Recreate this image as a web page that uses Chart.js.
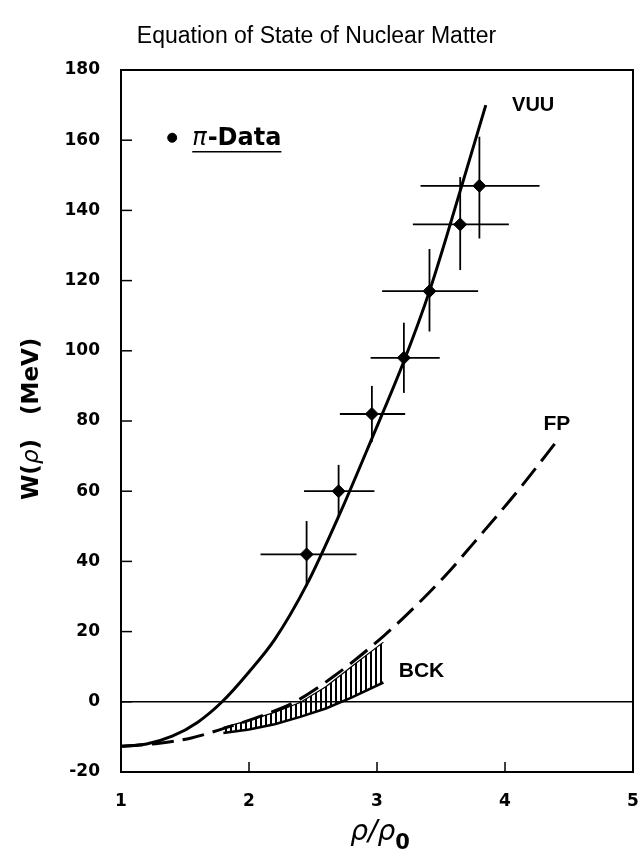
<!DOCTYPE html>
<html><head><meta charset="utf-8">
<script src="https://cdn.jsdelivr.net/npm/chart.js@4.4.0/dist/chart.umd.min.js"></script>
<style>html,body{margin:0;padding:0;background:#fff}</style>
</head><body>
<canvas id="c" width="643" height="857"></canvas>
<script>
// ---- data ----
const titleText = 'Equation of State of Nuclear Matter';
const xTicks = [1, 2, 3, 4, 5];
const yTicks = [-20, 0, 20, 40, 60, 80, 100, 120, 140, 160, 180];

// pi data points with error bars
const dataX  = [2.45, 2.70, 2.96, 3.21, 3.41, 3.65, 3.80];
const dataY  = [42, 60, 82, 98, 117, 136, 147];
const dataXlo = [2.09, 2.43, 2.71, 2.95, 3.04, 3.28, 3.34];
const dataXhi = [2.84, 2.98, 3.22, 3.49, 3.79, 4.03, 4.27];
const dataYlo = [33, 52.5, 74, 88, 105.5, 123, 132];
const dataYhi = [51.5, 67.5, 90, 108, 129, 149.5, 161];

// VUU curve
const vuuX = [1.0, 1.2, 1.4, 1.6, 1.79, 2.0, 2.2, 2.45, 2.7, 2.96, 3.21, 3.41, 3.67, 3.85];
const vuuY = [-12.7, -12.0, -9.8, -5.8, 0, 8.5, 17.7, 33.3, 52.8, 75, 97, 117, 148, 170];

// FP curve
const fpX = [1.0, 1.3, 1.55, 1.81, 2.12, 2.36, 2.66, 3.06, 3.35, 3.56, 3.75, 4.12, 4.42];
const fpY = [-12.7, -11.8, -10.3, -7.5, -3.7, 0, 7.2, 19, 29, 37, 45, 61, 75];

// BCK band
const bckX  = [1.8, 2.0, 2.2, 2.4, 2.6, 2.8, 3.05];
const bckHi = [-7.3, -5.3, -3.0, -0.2, 4.3, 10, 17];
const bckLo = [-8.9, -7.9, -6.4, -4.3, -1.9, 1.2, 5.5];

// legend marker
const legendX = [1.40];
const legendY = [160.7];

// curve labels
const labelText = ['VUU', 'FP', 'BCK'];
const labelX = [4.055, 4.30, 3.17];
const labelY = [168.4, 77.5, 7.1];
const labelSize = [20, 21, 21];

// ---- build ----
const pts = (xs, ys) => xs.map((v, i) => ({x: v, y: ys[i]}));

const pc = document.createElement('canvas');
pc.width = 5; pc.height = 10;
const pctx = pc.getContext('2d');
pctx.fillStyle = '#000';
pctx.fillRect(0, 0, 2, 10);
const hatch = document.getElementById('c').getContext('2d').createPattern(pc, 'repeat');

const datasets = [];
datasets.push({data: pts([1, 5], [0, 0]), borderColor: '#000', borderWidth: 1.5, pointRadius: 0, showLine: true, fill: false});
datasets.push({data: pts(bckX, bckHi), borderColor: '#000', borderWidth: 1.2, pointRadius: 0, showLine: true,
  fill: '+1', backgroundColor: hatch, tension: 0});
datasets.push({data: pts(bckX, bckLo), borderColor: '#000', borderWidth: 2.5, pointRadius: 0, showLine: true, fill: false, tension: 0});
datasets.push({data: pts(fpX, fpY), borderColor: '#000', borderWidth: 3, borderDash: [22, 9], pointRadius: 0,
  showLine: true, fill: false, cubicInterpolationMode: 'monotone'});
datasets.push({data: pts(vuuX, vuuY), borderColor: '#000', borderWidth: 3, pointRadius: 0,
  showLine: true, fill: false, cubicInterpolationMode: 'monotone'});
dataX.forEach((xv, i) => {
  datasets.push({data: [{x: dataXlo[i], y: dataY[i]}, {x: dataXhi[i], y: dataY[i]}], borderColor: '#000', borderWidth: 1.8,
    pointRadius: 0, showLine: true, fill: false});
  datasets.push({data: [{x: xv, y: dataYlo[i]}, {x: xv, y: dataYhi[i]}], borderColor: '#000', borderWidth: 1.8,
    pointRadius: 0, showLine: true, fill: false});
});
datasets.push({data: pts(dataX, dataY), showLine: false, pointStyle: 'rectRot', pointRadius: 6.5,
  pointBackgroundColor: '#000', pointBorderColor: '#000'});
datasets.push({data: pts(legendX, legendY), showLine: false, pointStyle: 'circle', pointRadius: 4.5,
  pointBackgroundColor: '#000', pointBorderColor: '#000'});

const annot = {
  id: 'annot',
  afterDraw(chart) {
    const {ctx, chartArea: a, scales: {x, y}} = chart;
    ctx.save();
    ctx.strokeStyle = '#000';
    ctx.fillStyle = '#000';
    ctx.lineWidth = 2;
    ctx.strokeRect(a.left, a.top, a.right - a.left, a.bottom - a.top);
    ctx.lineWidth = 1.5;
    xTicks.forEach(v => {
      const px = x.getPixelForValue(v);
      ctx.beginPath(); ctx.moveTo(px, a.bottom); ctx.lineTo(px, a.bottom - 10); ctx.stroke();
    });
    yTicks.forEach(v => {
      const py = y.getPixelForValue(v);
      ctx.beginPath(); ctx.moveTo(a.left, py); ctx.lineTo(a.left + 11, py); ctx.stroke();
    });
    // curve labels
    ctx.textAlign = 'left'; ctx.textBaseline = 'alphabetic';
    labelText.forEach((t, i) => {
      ctx.font = 'bold ' + labelSize[i] + 'px "Liberation Sans"';
      ctx.fillText(t, x.getPixelForValue(labelX[i]), y.getPixelForValue(labelY[i]));
    });
    // legend text
    let lx = x.getPixelForValue(legendX[0]) + 20;
    const ly = y.getPixelForValue(legendY[0]) + 7;
    const lx0 = lx;
    ctx.font = 'italic 24px "DejaVu Sans"';
    ctx.fillText('π', lx, ly); lx += ctx.measureText('π').width + 1;
    ctx.font = 'bold 24px "DejaVu Sans"';
    ctx.fillText('-Data', lx, ly); lx += ctx.measureText('-Data').width;
    ctx.lineWidth = 1.5;
    ctx.beginPath(); ctx.moveTo(lx0, ly + 7); ctx.lineTo(lx, ly + 7); ctx.stroke();
    // x axis title
    const cx = (a.left + a.right) / 2 + 3;
    ctx.font = 'italic 28px "DejaVu Sans"';
    const w1 = ctx.measureText('ρ/ρ').width;
    ctx.font = 'bold 21px "DejaVu Sans"';
    const w2 = ctx.measureText('0').width;
    let sx = cx - (w1 + w2) / 2;
    ctx.font = 'italic 28px "DejaVu Sans"';
    ctx.fillText('ρ/ρ', sx, 840);
    ctx.font = 'bold 21px "DejaVu Sans"';
    ctx.fillText('0', sx + w1, 849);
    // y axis title
    ctx.translate(38, 500);
    ctx.rotate(-Math.PI / 2);
    let ty = 0;
    const part = (txt, font) => { ctx.font = font; ctx.fillText(txt, ty, 0); ty += ctx.measureText(txt).width; };
    part('W(', 'bold 23px "DejaVu Sans"');
    part('ρ', 'italic 23px "DejaVu Sans"');
    part(')', 'bold 23px "DejaVu Sans"');
    ty += 24;
    part('(MeV)', 'bold 23px "DejaVu Sans"');
    ctx.restore();
  }
};

new Chart(document.getElementById('c'), {
  type: 'scatter',
  data: {datasets},
  options: {
    responsive: false,
    animation: false,
    devicePixelRatio: 1,
    layout: {padding: {left: 0, right: 10, top: 0, bottom: 0}},
    plugins: {
      legend: {display: false},
      tooltip: {enabled: false},
      title: {display: true, text: titleText, color: '#000',
        font: {family: 'Liberation Sans', size: 23, weight: 'normal', lineHeight: 1.2},
        padding: {top: 23.2, bottom: 19.2}}
    },
    scales: {
      x: {type: 'linear', min: 1, max: 5,
        grid: {display: false}, border: {display: false},
        afterBuildTicks: s => { s.ticks = xTicks.map(v => ({value: v})); },
        afterFit: s => { s.height = 85; s.paddingLeft = 0; s.paddingRight = 0; },
        ticks: {color: '#000', padding: 11, maxRotation: 0, font: {family: 'DejaVu Sans', size: 17, weight: 'bold'}}},
      y: {type: 'linear', min: -20, max: 180,
        grid: {display: false}, border: {display: false},
        afterBuildTicks: s => { s.ticks = yTicks.map(v => ({value: v})); },
        afterFit: s => { s.width = 121; s.paddingTop = 0; s.paddingBottom = 0; },
        ticks: {color: '#000', padding: 13, font: {family: 'DejaVu Sans', size: 17, weight: 'bold'}}}
    }
  },
  plugins: [annot]
});
</script>
</body></html>
